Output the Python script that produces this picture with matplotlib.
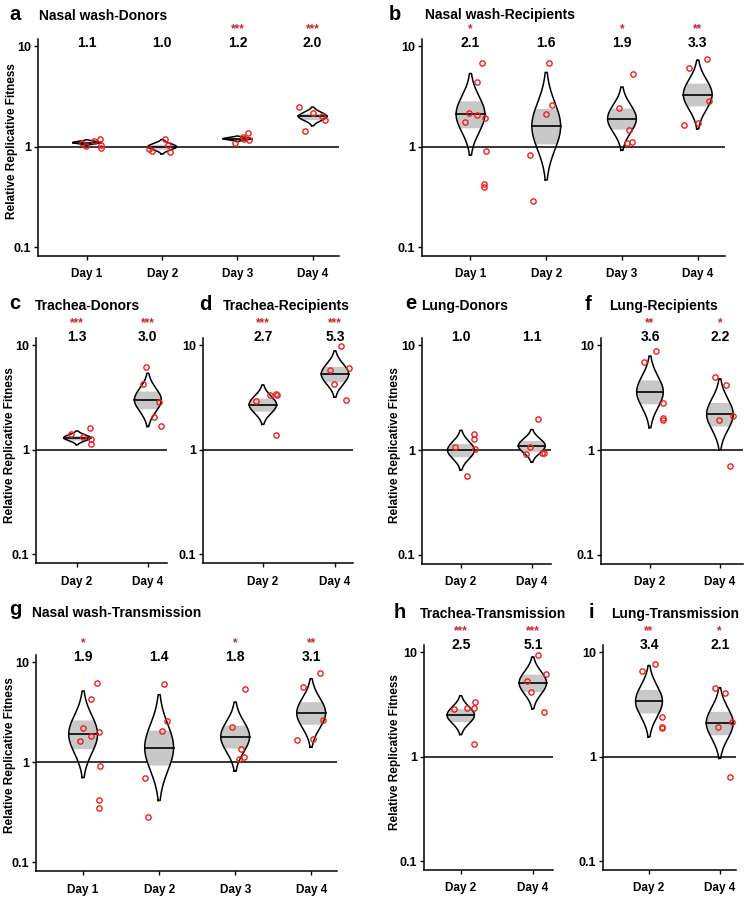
import numpy as np
import matplotlib
matplotlib.use("Agg")
import matplotlib.pyplot as plt
from matplotlib.ticker import NullLocator

plt.rcParams['font.family'] = ['Liberation Sans', 'DejaVu Sans']
plt.rcParams['font.weight'] = 'bold'

# ---- data (fitness estimate, log10 spread, significance, replicate values, jitter) ----
days4 = ["Day 1", "Day 2", "Day 3", "Day 4"]
days2 = ["Day 2", "Day 4"]

fit_a = [1.1, 1.0, 1.2, 2.0]
sd_a = [0.009, 0.024, 0.009, 0.031]
sig_a = ["", "", "***", "***"]
pts_a = [[1.09, 1.01, 1.14, 1.18, 1.03, 0.97], [0.94, 0.91, 1.18, 0.89, 1.03],
         [1.08, 1.26, 1.36, 1.17, 1.20], [2.5, 1.44, 2.17, 2.0, 1.84]]
jit_a = [[-0.07, -0.01, 0.09, 0.18, 0.19, 0.19], [-0.17, -0.14, 0.04, 0.10, 0.08],
         [-0.03, 0.07, 0.14, 0.16, 0.09], [-0.18, -0.10, 0.01, 0.13, 0.16]]

fit_b = [2.1, 1.6, 1.9, 3.3]
sd_b = [0.135, 0.178, 0.105, 0.114]
sig_b = ["*", "", "*", "**"]
pts_b = [[1.75, 2.14, 2.06, 4.42, 6.73, 1.91, 0.91, 0.426, 0.40], [0.83, 0.29, 2.11, 2.59, 6.83],
         [2.4, 1.46, 1.1, 1.12, 5.23], [1.64, 6.09, 1.73, 7.43, 2.84]]
jit_b = [[-0.07, -0.02, 0.09, 0.09, 0.15, 0.19, 0.20, 0.18, 0.18], [-0.21, -0.18, 0.0, 0.07, 0.03],
         [-0.04, 0.09, 0.07, 0.13, 0.14], [-0.18, -0.11, 0.01, 0.12, 0.15]]

fit_c = [1.3, 3.0]
sd_c = [0.022, 0.085]
sig_c = ["***", "***"]
pts_c = [[1.41, 1.32, 1.63, 1.26, 1.14], [6.16, 4.24, 2.85, 2.05, 1.7]]
jit_c = [[-0.09, 0.08, 0.18, 0.19, 0.19], [-0.02, -0.07, 0.15, 0.08, 0.19]]

fit_d = [2.7, 5.3]
sd_d = [0.063, 0.074]
sig_d = ["***", "***"]
pts_d = [[2.94, 3.33, 3.40, 3.36, 1.37], [5.81, 4.24, 9.86, 6.03, 2.96]]
jit_d = [[-0.09, 0.10, 0.18, 0.20, 0.18], [-0.07, -0.02, 0.08, 0.19, 0.15]]

fit_e = [1.0, 1.1]
sd_e = [0.063, 0.052]
sig_e = ["", ""]
pts_e = [[1.07, 0.57, 1.43, 1.28, 1.03], [0.92, 1.07, 2.0, 0.94, 0.94]]
jit_e = [[-0.09, 0.09, 0.19, 0.19, 0.20], [-0.08, -0.03, 0.08, 0.14, 0.17]]

fit_f = [3.6, 2.2]
sd_f = [0.114, 0.113]
sig_f = ["**", "*"]
pts_f = [[6.89, 8.9, 2.83, 2.03, 1.93], [4.99, 4.22, 1.93, 2.14, 0.70]]
jit_f = [[-0.09, 0.08, 0.18, 0.18, 0.19], [-0.07, 0.08, -0.02, 0.19, 0.15]]

fit_g = [1.9, 1.4, 1.8, 3.1]
sd_g = [0.144, 0.176, 0.115, 0.114]
sig_g = ["*", "", "*", "**"]
pts_g = [[1.61, 2.18, 1.84, 4.28, 6.22, 1.99, 0.92, 0.415, 0.348], [0.70, 0.283, 2.05, 2.6, 6.04],
         [2.22, 1.36, 1.07, 1.12, 5.42], [1.67, 5.59, 1.70, 7.71, 2.64]]
jit_g = [[-0.04, 0.0, 0.11, 0.11, 0.18, 0.21, 0.22, 0.21, 0.21], [-0.18, -0.15, 0.04, 0.10, 0.06],
         [-0.04, 0.08, 0.05, 0.12, 0.13], [-0.18, -0.11, 0.02, 0.12, 0.16]]

fit_h = [2.5, 5.1]
sd_h = [0.062, 0.083]
sig_h = ["***", "***"]
pts_h = [[2.84, 2.90, 2.90, 3.31, 1.31], [5.30, 4.16, 9.4, 6.18, 2.70]]
jit_h = [[-0.09, 0.08, 0.18, 0.20, 0.18], [-0.08, -0.02, 0.07, 0.18, 0.15]]

fit_i = [3.4, 2.1]
sd_i = [0.114, 0.113]
sig_i = ["**", "*"]
pts_i = [[6.65, 7.7, 2.41, 1.91, 1.89], [4.51, 4.10, 1.91, 2.16, 0.644]]
jit_i = [[-0.10, 0.08, 0.18, 0.18, 0.19], [-0.07, 0.08, -0.02, 0.18, 0.15]]

yticks = [0.1, 1, 10]
ytick_labels = ["0.1", "1", "10"]
ylab = "Relative Replicative Fitness"

W, H = 746, 899
fig = plt.figure(figsize=(W / 100, H / 100), dpi=100)


def px_axes(l, t, r, b):
    return fig.add_axes([l / W, 1 - b / H, (r - l) / W, (b - t) / H])


def bean(ax, x, c, sd, hw=0.19):
    # bean spans +-3 sd (log10), band = +-1 sd, profile a bit fuller than a plain normal
    ly = np.linspace(-3 * sd, 3 * sd, 300)
    w = hw * np.exp(-0.5 * (ly / (3 * sd) * 2.3) ** 2)
    yy = c * 10 ** ly
    inb = np.abs(ly) <= sd
    ax.fill_betweenx(yy[inb], x - w[inb], x + w[inb], color='#c8c8c8', lw=0, zorder=2)
    ax.plot(np.r_[x - w, (x + w)[::-1], x - w[0]], np.r_[yy, yy[::-1], yy[0]],
            color='k', lw=1.1, zorder=3)
    ax.plot([x - hw, x + hw], [c, c], color='k', lw=1.2, zorder=3)


def panel(box, xlim, letter, title, lpos, tpos, days, fit, sd, sig, pts, jit,
          ylpos=None, lab_y=1.06, star_y=1.19):
    ax = px_axes(*box)
    ax.set_yscale('log')
    ax.set_ylim(10 ** -1.086, 10 ** 1.07)
    ax.set_xlim(*xlim)
    ax.yaxis.set_minor_locator(NullLocator())
    ax.set_yticks(yticks)
    ax.set_yticklabels(ytick_labels)
    xs = np.arange(1, len(days) + 1)
    ax.set_xticks(xs)
    ax.set_xticklabels(days)
    ax.tick_params(labelsize=8.5, length=3, width=1.0, pad=2)
    ax.tick_params(axis='y', labelsize=9)
    ax.tick_params(axis='x', pad=6)
    for s in ['top', 'right']:
        ax.spines[s].set_visible(False)
    for s in ['left', 'bottom']:
        ax.spines[s].set_linewidth(1.1)
    ax.axhline(1, color='k', lw=1.1, zorder=1)

    for x, c, s, st, p, j in zip(xs, fit, sd, sig, pts, jit):
        bean(ax, x, c, s)
        ax.plot(x + np.array(j), p, 'o', mfc='none', mec='#f01e1e', ms=3.8, mew=1.0,
                zorder=4, clip_on=False)
        ax.text(x, 10 ** lab_y, f"{c:.1f}", ha='center', va='center', fontsize=10,
                clip_on=False)
        if st:
            ax.text(x, 10 ** star_y, st, ha='center', va='center', fontsize=8.5,
                    color='#c42a30', clip_on=False)

    fig.text(lpos[0] / W, 1 - lpos[1] / H, letter, fontsize=14.5, ha='left', va='baseline')
    fig.text(tpos[0] / W, 1 - tpos[1] / H, title, fontsize=10, ha='left', va='baseline')
    if ylpos:
        fig.text(ylpos[0] / W, 1 - ylpos[1] / H, ylab, rotation=90, fontsize=8.5,
                 ha='center', va='center')
    return ax


panel((38, 39, 339, 256), (0.35, 4.35), "a", "Nasal wash-Donors", (9, 20), (39, 20),
      days4, fit_a, sd_a, sig_a, pts_a, jit_a, ylpos=(12, 141), lab_y=1.03, star_y=1.165)
panel((422, 39, 725, 256), (0.36, 4.36), "b", "Nasal wash-Recipients", (389, 20), (425, 19),
      days4, fit_b, sd_b, sig_b, pts_b, jit_b, lab_y=1.03, star_y=1.165)
panel((36, 338, 167, 563), (0.42, 2.27), "c", "Trachea-Donors", (9, 309), (35, 310),
      days2, fit_c, sd_c, sig_c, pts_c, jit_c, ylpos=(10, 445), lab_y=1.075, star_y=1.21)
panel((203, 338, 353, 563), (0.17, 2.25), "d", "Trachea-Recipients", (199, 310), (223, 310),
      days2, fit_d, sd_d, sig_d, pts_d, jit_d, lab_y=1.075, star_y=1.21)
panel((422, 338, 551, 564), (0.45, 2.27), "e", "Lung-Donors", (405, 309), (421, 310),
      days2, fit_e, sd_e, sig_e, pts_e, jit_e, ylpos=(395, 445), lab_y=1.075, star_y=1.21)
panel((601, 338, 743, 564), (0.30, 2.33), "f", "Lung-Recipients", (585, 310), (609, 310),
      days2, fit_f, sd_f, sig_f, pts_f, jit_f, lab_y=1.075, star_y=1.21)
panel((36, 655, 337, 871), (0.38, 4.34), "g", "Nasal wash-Transmission", (9, 615), (32, 617),
      days4, fit_g, sd_g, sig_g, pts_g, jit_g, ylpos=(10, 755), lab_y=1.05, star_y=1.185)
panel((424, 645, 553, 870), (0.49, 2.28), "h", "Trachea-Transmission", (394, 618), (420, 618),
      days2, fit_h, sd_h, sig_h, pts_h, jit_h, ylpos=(395, 752), lab_y=1.07, star_y=1.205)
panel((603, 645, 736, 870), (0.35, 2.23), "i", "Lung-Transmission", (589, 618), (611, 618),
      days2, fit_i, sd_i, sig_i, pts_i, jit_i, lab_y=1.07, star_y=1.205)

fig.savefig("out.png", dpi=100)
